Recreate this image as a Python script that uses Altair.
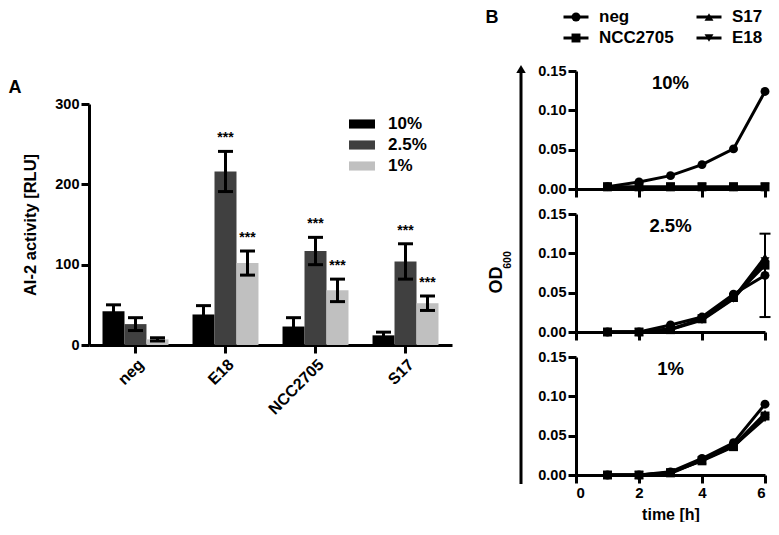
import altair as alt
import pandas as pd

FONT = "Liberation Sans"

# ---------------- Panel A: AI-2 activity ----------------
strains = ["neg", "E18", "NCC2705", "S17"]
concs = ["10%", "2.5%", "1%"]
bar_colors = ["#000000", "#404040", "#c0c0c0"]
ai2_10 = [42, 38, 23, 12]
ai2_25 = [26, 216, 117, 104]
ai2_1 = [7, 102, 68, 52]
sd_10 = [8, 11, 11, 4]
sd_25 = [8, 25, 17, 22]
sd_1 = [2, 15, 14, 9]
sig_10 = ["", "", "", ""]
sig_25 = ["", "***", "***", "***"]
sig_1 = ["", "***", "***", "***"]
ai2_ticks = [0, 100, 200, 300]

# ---------------- Panel B: OD600 growth ----------------
series = ["neg", "NCC2705", "S17", "E18"]
shapes = ["circle", "square", "triangle-up", "triangle-down"]
times = [1, 2, 3, 4, 5, 6]
od10_neg = [0.003, 0.009, 0.017, 0.031, 0.051, 0.124]
od10_ncc = [0.003, 0.003, 0.003, 0.003, 0.003, 0.003]
od10_s17 = [0.002, 0.002, 0.002, 0.002, 0.002, 0.002]
od10_e18 = [0.002, 0.002, 0.002, 0.002, 0.002, 0.002]
od25_neg = [0.000, 0.000, 0.009, 0.019, 0.048, 0.072]
od25_ncc = [0.000, 0.000, 0.003, 0.017, 0.044, 0.085]
od25_s17 = [0.000, 0.000, 0.004, 0.016, 0.043, 0.095]
od25_e18 = [0.000, 0.000, 0.003, 0.015, 0.042, 0.090]
od25_neg_sd = [0, 0, 0, 0, 0, 0.053]
od1_neg = [0.000, 0.000, 0.004, 0.021, 0.041, 0.090]
od1_ncc = [0.000, 0.000, 0.003, 0.018, 0.036, 0.075]
od1_s17 = [0.000, 0.000, 0.002, 0.019, 0.037, 0.078]
od1_e18 = [0.000, 0.000, 0.003, 0.019, 0.037, 0.072]
no_sd = [0, 0, 0, 0, 0, 0]
od_ticks = [0, 0.05, 0.10, 0.15]
time_ticks = [0, 2, 4, 6]

# ---------------- Panel A chart ----------------
rowsA = []
for vals, sds, sigs, c in [(ai2_10, sd_10, sig_10, "10%"),
                           (ai2_25, sd_25, sig_25, "2.5%"),
                           (ai2_1, sd_1, sig_1, "1%")]:
    for s, v, e, g in zip(strains, vals, sds, sigs):
        rowsA.append(dict(strain=s, conc=c, value=v, lo=v - e, hi=v + e, sig=g))
dfA = pd.DataFrame(rowsA)

scA = alt.Scale(domain=[0, 300], nice=False)
axA = alt.Axis(title="AI-2 activity [RLU]", values=ai2_ticks, tickCount=4,
               titleFontSize=16.5, titlePadding=16, labelFontSize=14.5,
               tickSize=8, labelPadding=2)
xA = alt.X("strain:N", sort=strains,
           scale=alt.Scale(paddingInner=0.267, paddingOuter=0.15),
           axis=alt.Axis(title=None, labelAngle=-45, labelFontSize=16,
                         tickSize=8, labelPadding=3))
xoA = alt.XOffset("conc:N", sort=concs,
                  scale=alt.Scale(domain=concs, paddingInner=0, paddingOuter=0))

baseA = alt.Chart(dfA).encode(x=xA, xOffset=xoA)
bars = baseA.mark_bar().encode(
    y=alt.Y("value:Q", scale=scA, axis=axA),
    color=alt.Color("conc:N", sort=concs,
                    scale=alt.Scale(domain=concs, range=bar_colors),
                    legend=alt.Legend(title=None, orient="none", legendX=260, legendY=103,
                                      symbolType="M-1,-0.35H1V0.35H-1Z", symbolSize=676,
                                      symbolStrokeWidth=0, labelFontSize=17, labelFont=FONT,
                                      labelFontWeight="bold", labelColor="black",
                                      labelOffset=13, rowPadding=0)),
)
errA = baseA.mark_rule(color="black", strokeWidth=3).encode(
    y=alt.Y("lo:Q", scale=scA, axis=axA), y2="hi:Q")
capHi = baseA.mark_tick(color="black", thickness=3, size=15, opacity=1).encode(
    y=alt.Y("hi:Q", scale=scA, axis=axA))
capLo = baseA.mark_tick(color="black", thickness=3, size=15, opacity=1).encode(
    y=alt.Y("lo:Q", scale=scA, axis=axA))
stars = baseA.mark_text(font=FONT, fontSize=14, fontWeight="bold", color="black",
                        baseline="alphabetic", dy=-9).encode(
    y=alt.Y("hi:Q", scale=scA, axis=axA), text="sig:N")

chartA = alt.layer(bars, errA, capHi, capLo, stars).properties(width=363, height=241)

# spacer row holding the panel letter "A"
spacerA = alt.Chart(pd.DataFrame({"panel": ["A"]})).mark_text(
    font=FONT, fontSize=18, fontWeight="bold", color="black", baseline="middle").encode(
    x=alt.value(-74), y=alt.value(80), text="panel:N").properties(width=363, height=96)

colA = alt.vconcat(spacerA, chartA, spacing=0, bounds="flush")

# ---------------- Panel B charts ----------------
def panel(label, lists, sd_lists, bottom, ytitle):
    rows = []
    for s, vals, sds in zip(series, lists, sd_lists):
        for t, v, e in zip(times, vals, sds):
            rows.append(dict(series=s, t=t, od=v, lo=v - e, hi=v + e, sd=e))
    df = pd.DataFrame(rows)
    xkw = dict(values=time_ticks, tickCount=4, labels=bottom, tickSize=8,
               labelFontSize=15, labelPadding=2)
    if bottom:
        xkw.update(title="time [h]", titleFontSize=16, titlePadding=6)
    else:
        xkw.update(title=None)
    ykw = dict(values=od_ticks, tickCount=4, format=".2f", tickSize=8,
               labelFontSize=14.5, labelPadding=2, title=None)
    xs = alt.Scale(domain=[0, 6], nice=False)
    ys = alt.Scale(domain=[0, 0.15], nice=False)
    x = alt.X("t:Q", scale=xs, axis=alt.Axis(**xkw))
    y = alt.Y("od:Q", scale=ys, axis=alt.Axis(**ykw))
    base = alt.Chart(df)
    lines = base.mark_line(color="black", strokeWidth=3).encode(x=x, y=y, detail="series:N")
    pts = base.mark_point(filled=True, opacity=1, color="black", size=80).encode(
        x=x, y=y,
        shape=alt.Shape("series:N", scale=alt.Scale(domain=series, range=shapes), legend=None))
    errd = base.transform_filter("datum.sd > 0")
    err = errd.mark_rule(color="black", strokeWidth=2).encode(
        x=x, y=alt.Y("lo:Q", scale=ys, axis=alt.Axis(**ykw)), y2="hi:Q")
    cap1 = errd.mark_tick(orient="horizontal", color="black", thickness=2, size=11, opacity=1).encode(
        x=x, y=alt.Y("hi:Q", scale=ys, axis=alt.Axis(**ykw)))
    cap2 = errd.mark_tick(orient="horizontal", color="black", thickness=2, size=11, opacity=1).encode(
        x=x, y=alt.Y("lo:Q", scale=ys, axis=alt.Axis(**ykw)))
    lab = alt.Chart(pd.DataFrame({"label": [label]})).mark_text(
        font=FONT, fontSize=18.5, fontWeight="bold", color="black", baseline="middle").encode(
        x=alt.datum(3), y=alt.datum(0.135), text="label:N")
    layers = [lines, pts, err, cap1, cap2, lab]
    if ytitle:
        one = pd.DataFrame({"txt": ["OD"], "sub": ["600"]})
        arrow = alt.Chart(one).mark_rule(color="black", strokeWidth=3).encode(
            x=alt.value(-55), y=alt.value(-141), y2=alt.value(270))
        head = alt.Chart(one).mark_point(
            shape="triangle-up", filled=True, opacity=1, color="black", size=90).encode(
            x=alt.value(-55), y=alt.value(-145))
        od = alt.Chart(one).mark_text(font=FONT, fontSize=18, fontWeight="bold", color="black",
                                      angle=270, baseline="middle").encode(
            x=alt.value(-79), y=alt.value(66), text="txt:N")
        od_sub = alt.Chart(one).mark_text(font=FONT, fontSize=10.5, fontWeight="bold", color="black",
                                          angle=270, baseline="middle").encode(
            x=alt.value(-68), y=alt.value(46), text="sub:N")
        layers += [arrow, head, od, od_sub]
    return alt.layer(*layers).properties(width=189, height=118)

b1 = panel("10%", [od10_neg, od10_ncc, od10_s17, od10_e18],
           [no_sd, no_sd, no_sd, no_sd], False, False)
b2 = panel("2.5%", [od25_neg, od25_ncc, od25_s17, od25_e18],
           [od25_neg_sd, no_sd, no_sd, no_sd], False, True)
b3 = panel("1%", [od1_neg, od1_ncc, od1_s17, od1_e18],
           [no_sd, no_sd, no_sd, no_sd], True, False)

# legend for panel B (two columns)
leg_col = [0, 0, 1, 1]
leg_row = [0, 1, 0, 1]
dfL = pd.DataFrame({"series": series, "col": leg_col, "row": leg_row})
xL = alt.X("col:Q", scale=alt.Scale(domain=[0, 1]), axis=None)
yL = alt.Y("row:Q", scale=alt.Scale(domain=[-0.4286, 1.381], reverse=True), axis=None)
baseL = alt.Chart(dfL).encode(x=xL, y=yL)
legLine = baseL.mark_tick(orient="horizontal", color="black", thickness=3, size=25, opacity=1)
legPt = baseL.mark_point(filled=True, opacity=1, color="black", size=80).encode(
    shape=alt.Shape("series:N", scale=alt.Scale(domain=series, range=shapes), legend=None))
legTxt = baseL.mark_text(align="left", dx=23, font=FONT, fontSize=17, fontWeight="bold",
                         color="black", baseline="middle").encode(text="series:N")
labB = alt.Chart(pd.DataFrame({"panel": ["B"]})).mark_text(
    font=FONT, fontSize=18, fontWeight="bold", color="black", baseline="middle").encode(
    x=alt.value(-84), y=alt.value(10), text="panel:N")
legB = alt.layer(legLine, legPt, legTxt, labB).properties(width=133, height=38)

colB = alt.vconcat(legB, b1, b2, b3, spacing=25, bounds="flush")

chart = alt.hconcat(colA, colB, spacing=33, bounds="full").properties(
    padding=0
).configure_view(stroke=None).configure_axis(
    domainColor="black", domainWidth=3, tickColor="black", tickWidth=3,
    labelColor="black", labelFont=FONT, labelFontWeight="bold",
    titleFont=FONT, titleFontWeight="bold", titleColor="black", grid=False,
)

chart.save("out.html", embed_options={"renderer": "svg", "actions": False})
